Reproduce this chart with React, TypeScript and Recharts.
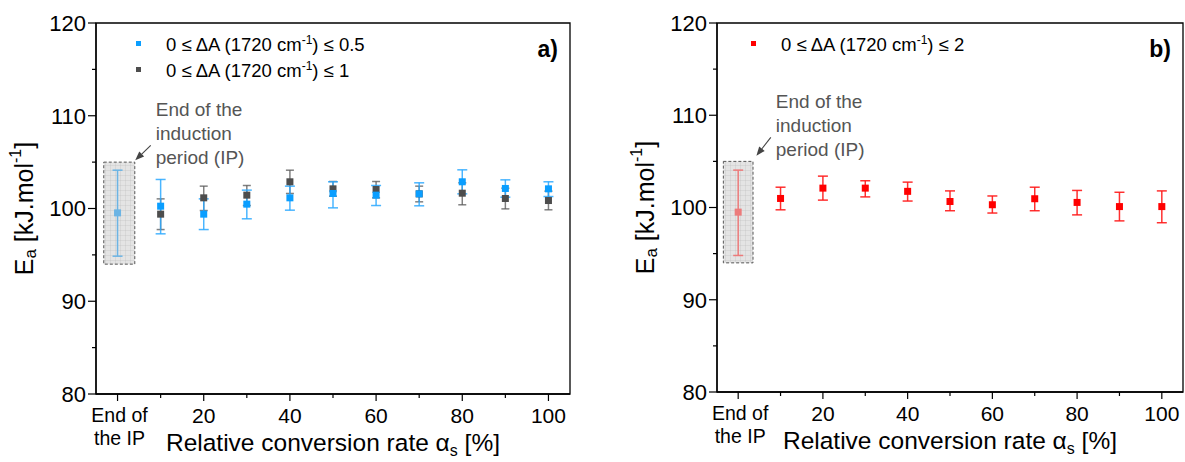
import React from "react";
import {
  ScatterChart,
  Scatter,
  XAxis,
  YAxis,
  ErrorBar,
  ReferenceArea,
  ReferenceLine,
  Legend,
} from "recharts";

// relative conversion rate (%) – the "End of the IP" point sits at 0
const conversion = [10, 20, 30, 40, 50, 60, 70, 80, 90, 100];
const ipX = [0];

// panel a) 0 <= dA <= 0.5  (blue)
const blueIpMean = [99.53];
const blueIpLow = [94.86];
const blueIpHigh = [104.13];
const blueMean = [100.25, 99.39, 100.47, 101.15, 101.62, 101.44, 101.58, 102.88, 102.16, 102.12];
const blueLow = [97.27, 97.73, 98.89, 99.82, 100.07, 100.32, 100.29, 101.58, 101.22, 101.29];
const blueHigh = [103.13, 101.04, 101.98, 102.41, 102.88, 102.48, 102.77, 104.17, 103.09, 102.88];

// panel a) 0 <= dA <= 1  (dark grey)
const greyMean = [99.39, 101.15, 101.44, 102.88, 102.12, 102.05, 101.58, 101.65, 101.08, 100.86];
const greyLow = [97.73, 99.78, 100.32, 101.62, 101.33, 101.15, 100.72, 100.4, 99.96, 99.86];
const greyHigh = [101.04, 102.41, 102.48, 104.13, 102.91, 102.91, 102.41, 102.77, 102.19, 101.87];

// panel b) 0 <= dA <= 2  (red)
const redIpMean = [99.5];
const redIpLow = [94.8];
const redIpHigh = [104.05];
const redMean = [100.98, 102.1, 102.1, 101.75, 100.65, 100.3, 100.95, 100.55, 100.1, 100.1];
const redLow = [99.75, 100.8, 101.15, 100.7, 99.65, 99.4, 99.65, 99.2, 98.55, 98.35];
const redHigh = [102.2, 103.4, 102.9, 102.75, 101.8, 101.25, 102.2, 101.85, 101.65, 101.8];

const xTicks = [0, 10, 20, 30, 40, 50, 60, 70, 80, 90, 100];
const yTicks = [80, 85, 90, 95, 100, 105, 110, 115, 120];
const xDomain = [-5, 105];
const yDomain = [80, 120];

const FONT = '"Liberation Sans", Arial, sans-serif';

type Row = { x: number; y: number; err: [number, number] };

const toRows = (xs: number[], mean: number[], low: number[], high: number[]): Row[] =>
  xs.map((x, i) => ({ x, y: mean[i], err: [mean[i] - low[i], high[i] - mean[i]] }));

const square = (color: string, size = 7) => (p: any) =>
  <rect x={p.cx - size / 2} y={p.cy - size / 2} width={size} height={size} fill={color} />;

function XTick(props: any) {
  const { x, y, payload } = props;
  const v = payload.value;
  const major = v % 20 === 0;
  return (
    <g>
      <line x1={x} y1={y} x2={x} y2={y + (major ? 7 : 4)} stroke="#000" strokeWidth={1.2} />
      {v === 0 ? (
        <text x={x + 2} y={y + 28} textAnchor="middle" fontSize={19.5} fill="#000">
          <tspan x={x + 2}>End of</tspan>
          <tspan x={x + 2} dy={23}>the IP</tspan>
        </text>
      ) : major ? (
        <text x={x} y={y + 29} textAnchor="middle" fontSize={21} fill="#000">
          {v}
        </text>
      ) : null}
    </g>
  );
}

function YTick(props: any) {
  const { x, y, payload } = props;
  const v = payload.value;
  const major = v % 10 === 0;
  return (
    <g>
      <line x1={x} y1={y} x2={x - (major ? 8 : 4)} y2={y} stroke="#000" strokeWidth={1.2} />
      {major && (
        <text x={x - 10} y={y} dy="0.36em" textAnchor="end" fontSize={22} fill="#000">
          {v}
        </text>
      )}
    </g>
  );
}

function XTitle({ viewBox }: any) {
  const cx = viewBox.x + viewBox.width / 2;
  return (
    <text x={cx} y={viewBox.y + 57} textAnchor="middle" fontSize={24.5} fill="#000">
      Relative conversion rate α<tspan dy={5} fontSize={16}>s</tspan>
      <tspan dy={-5}> [%]</tspan>
    </text>
  );
}

function YTitle({ viewBox }: any) {
  const cx = viewBox.x + viewBox.width - 72;
  const cy = viewBox.y + viewBox.height / 2;
  return (
    <text
      x={cx}
      y={cy}
      transform={`rotate(-90 ${cx} ${cy})`}
      textAnchor="middle"
      dominantBaseline="central"
      fontSize={25}
      fill="#000"
    >
      E<tspan dy={6} fontSize={17}>a</tspan>
      <tspan dy={-6}> [kJ.mol</tspan>
      <tspan dy={-9} fontSize={16}>-1</tspan>
      <tspan dy={9}>]</tspan>
    </text>
  );
}

// arrow + "End of the induction period (IP)" note, anchored to the segment
function NoteArrow(p: any) {
  const { x1, y1, x2, y2 } = p;
  const ang = Math.atan2(y2 - y1, x2 - x1);
  const len = 9;
  const w = 3.5;
  const bx = x2 - len * Math.cos(ang);
  const by = y2 - len * Math.sin(ang);
  const head = `${x2},${y2} ${bx + w * Math.sin(ang)},${by - w * Math.cos(ang)} ${bx - w * Math.sin(ang)},${by + w * Math.cos(ang)}`;
  const tx = x1 + 5;
  return (
    <g>
      <line x1={x1} y1={y1} x2={bx} y2={by} stroke="#444" strokeWidth={1.1} />
      <polygon points={head} fill="#444" />
      <text x={tx} y={y1 - 29} fontSize={19} fill="#555">
        <tspan x={tx}>End of the</tspan>
        <tspan x={tx} dy={24}>induction</tspan>
        <tspan x={tx} dy={24}>period (IP)</tspan>
      </text>
    </g>
  );
}

function LegendBox({ items }: { items: { limit: string; color: string }[] }) {
  return (
    <div style={{ fontSize: 18.5, lineHeight: "26px", color: "#000", fontFamily: FONT }}>
      {items.map((it) => (
        <div key={it.limit} style={{ position: "relative", height: 26, paddingLeft: 30, whiteSpace: "nowrap" }}>
          <span
            style={{ position: "absolute", left: 0, top: 9, width: 5, height: 5, background: it.color }}
          />
          0 ≤ ΔA (1720 cm<sup style={{ fontSize: 12, lineHeight: 0 }}>-1</sup>) ≤ {it.limit}
        </div>
      ))}
    </div>
  );
}

interface SeriesDef {
  name: string;
  rows: Row[];
  color: string;
  barColor: string;
  barOpacity: number;
  cap: number;
}

interface PanelProps {
  id: string;
  width: number;
  yAxisWidth: number;
  right: number;
  xAxisHeight: number;
  legendLeft: number;
  legend: { limit: string; color: string }[];
  letter: string;
  box: [number, number];
  arrow: [{ x: number; y: number }, { x: number; y: number }];
  series: SeriesDef[];
}

function Panel(cfg: PanelProps) {
  const axisLine = { stroke: "#000", strokeWidth: 1.3 };
  return (
    <ScatterChart width={cfg.width} height={462} margin={{ top: 23, right: cfg.right, bottom: 0, left: 0 }}>
      <defs>
        <pattern id={`ipgrid-${cfg.id}`} width={5} height={5} patternUnits="userSpaceOnUse">
          <rect width={5} height={5} fill="#d9d9d9" fillOpacity={0.7} />
          <path d="M5 0 L0 0 0 5" fill="none" stroke="#b5b5b5" strokeOpacity={0.7} strokeWidth={0.8} />
        </pattern>
      </defs>
      <XAxis
        type="number"
        dataKey="x"
        domain={xDomain}
        ticks={xTicks}
        interval={0}
        allowDataOverflow
        height={cfg.xAxisHeight}
        tickSize={0}
        tickMargin={0}
        tickLine={false}
        axisLine={axisLine}
        tick={(p: any) => <XTick {...p} />}
        label={{ content: (p: any) => <XTitle {...p} /> }}
      />
      <YAxis
        type="number"
        dataKey="y"
        domain={yDomain}
        ticks={yTicks}
        interval={0}
        allowDataOverflow
        width={cfg.yAxisWidth}
        tickSize={0}
        tickMargin={0}
        tickLine={false}
        axisLine={axisLine}
        tick={(p: any) => <YTick {...p} />}
        label={{ content: (p: any) => <YTitle {...p} /> }}
      />
      <ReferenceArea
        x1={xDomain[0]}
        x2={xDomain[1]}
        y1={yDomain[0]}
        y2={yDomain[1]}
        fill="none"
        fillOpacity={0}
        stroke="#000"
        strokeWidth={1.3}
        label={{
          content: (p: any) => (
            <text
              x={p.viewBox.x + p.viewBox.width - 12}
              y={p.viewBox.y + 34}
              textAnchor="end"
              fontSize={23}
              fontWeight="bold"
              fill="#000"
            >
              {cfg.letter}
            </text>
          ),
        }}
      />
      {cfg.series.map((s) => (
        <Scatter key={s.name} name={s.name} data={s.rows} isAnimationActive={false} shape={square(s.color)}>
          <ErrorBar
            dataKey="err"
            direction="y"
            width={s.cap}
            stroke={s.barColor}
            strokeOpacity={s.barOpacity}
            strokeWidth={1.5}
          />
        </Scatter>
      ))}
      <ReferenceArea
        x1={cfg.box[0]}
        x2={cfg.box[1]}
        y1={94}
        y2={105}
        fill={`url(#ipgrid-${cfg.id})`}
        fillOpacity={1}
        stroke="#555"
        strokeWidth={1}
        strokeDasharray="3 2"
      />
      <ReferenceLine segment={cfg.arrow} shape={(p: any) => <NoteArrow {...p} />} />
      <Legend
        layout="vertical"
        align="center"
        verticalAlign="middle"
        wrapperStyle={{ top: 32, left: cfg.legendLeft, width: 340 }}
        content={() => <LegendBox items={cfg.legend} />}
      />
    </ScatterChart>
  );
}

export default function App() {
  const blueIp = toRows(ipX, blueIpMean, blueIpLow, blueIpHigh);
  const blue = toRows(conversion, blueMean, blueLow, blueHigh);
  const grey = toRows(conversion, greyMean, greyLow, greyHigh);
  const redIp = toRows(ipX, redIpMean, redIpLow, redIpHigh);
  const red = toRows(conversion, redMean, redLow, redHigh);

  return (
    <div
      style={{ position: "absolute", top: 0, left: 0, width: 1185, height: 462, background: "#fff", fontFamily: FONT }}
    >
      <div style={{ position: "absolute", left: 0, top: 0 }}>
        <Panel
          id="a"
          width={590}
          yAxisWidth={96}
          right={20}
          xAxisHeight={68}
          legendLeft={136}
          legend={[
            { limit: "0.5", color: "#0a9eff" },
            { limit: "1", color: "#4d4d4d" },
          ]}
          letter="a)"
          box={[-3.2, 4]}
          arrow={[
            { x: 7.7, y: 106.8 },
            { x: 4.1, y: 105.2 },
          ]}
          series={[
            { name: "ip-blue", rows: blueIp, color: "#6cb4e4", barColor: "#6cb4e4", barOpacity: 1, cap: 5 },
            { name: "grey", rows: grey, color: "#4d4d4d", barColor: "#555", barOpacity: 0.75, cap: 4 },
            { name: "blue", rows: blue, color: "#0a9eff", barColor: "#2aa8ff", barOpacity: 0.85, cap: 5 },
          ]}
        />
      </div>
      <div style={{ position: "absolute", left: 600, top: 0 }}>
        <Panel
          id="b"
          width={585}
          yAxisWidth={117}
          right={2}
          xAxisHeight={70}
          legendLeft={151}
          legend={[{ limit: "2", color: "#ff0000" }]}
          letter="b)"
          box={[-3.5, 3.5]}
          arrow={[
            { x: 7.7, y: 107.6 },
            { x: 4.3, y: 105.6 },
          ]}
          series={[
            { name: "ip-red", rows: redIp, color: "#ec7b7b", barColor: "#ec7b7b", barOpacity: 1, cap: 5 },
            { name: "red", rows: red, color: "#ff0000", barColor: "#ff1a1a", barOpacity: 0.9, cap: 5 },
          ]}
        />
      </div>
    </div>
  );
}
